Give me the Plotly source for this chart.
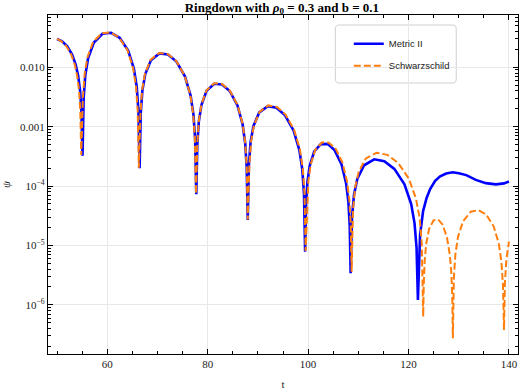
import plotly.graph_objects as go

# values (t, psi)
t_metric = [50.0, 51.0, 52.0, 53.0, 53.7, 54.2, 54.6, 54.85, 55.07,
            55.30, 55.64, 56.21, 57.34, 59.05, 60.76, 62.46, 64.17, 65.30, 65.87, 66.21, 66.44,
            66.67, 67.00, 67.57, 68.70, 70.39, 72.09, 73.78, 75.47, 76.60, 77.17, 77.50, 77.73,
            77.94, 78.24, 78.76, 79.78, 81.32, 82.86, 84.39, 85.93, 86.96, 87.47, 87.77, 87.98,
            88.21, 88.55, 89.12, 90.27, 91.98, 93.70, 95.41, 97.12, 98.27, 98.84, 99.18, 99.41,
            99.59, 99.86, 100.32, 101.22, 102.58, 103.94, 105.30, 106.66, 107.56, 108.02, 108.29, 108.47,
            108.74, 109.14, 109.81, 111.15, 113.16, 115.17, 117.18, 119.19, 120.53, 121.20, 121.60, 121.87,
            122.05, 122.3, 122.9, 123.6, 124.3, 125.3, 126.3, 127.5, 128.8, 130.0, 131.5, 133.4,
            135.4, 137.4, 139.0, 140.0]
psi_metric = [0.0299, 0.0274, 0.0228, 0.0164, 0.0112, 7.24e-3, 3.98e-3, 1.86e-3, 3.24e-4,
              3.06e-3, 7.51e-3, 0.0145, 0.0261, 0.0366, 0.0380, 0.0314, 0.0191, 9.52e-3, 4.70e-3, 1.85e-3, 2.0e-4,
              1.69e-3, 4.08e-3, 7.67e-3, 0.0131, 0.0171, 0.0164, 0.0125, 7.05e-3, 3.33e-3, 1.60e-3, 6.24e-4, 7.28e-5,
              5.09e-4, 1.23e-3, 2.32e-3, 4.02e-3, 5.28e-3, 5.15e-3, 3.99e-3, 2.28e-3, 1.09e-3, 5.26e-4, 2.06e-4, 2.69e-5,
              2.31e-4, 5.55e-4, 1.03e-3, 1.74e-3, 2.21e-3, 2.08e-3, 1.55e-3, 8.57e-4, 4.00e-4, 1.91e-4, 7.40e-5, 7.87e-6,
              4.76e-5, 1.16e-4, 2.19e-4, 3.84e-4, 5.13e-4, 5.08e-4, 4.00e-4, 2.32e-4, 1.12e-4, 5.46e-5, 2.14e-5, 3.40e-6,
              2.99e-5, 7.16e-5, 1.33e-4, 2.24e-4, 2.82e-4, 2.63e-4, 1.95e-4, 1.07e-4, 4.97e-5, 2.36e-5, 9.14e-6, 1.21e-6,
              5.01e-6, 1.51e-5, 3.80e-5, 6.31e-5, 8.91e-5, 1.23e-4, 1.46e-4, 1.63e-4, 1.71e-4, 1.65e-4, 1.53e-4, 1.27e-4,
              1.12e-4, 1.07e-4, 1.11e-4, 1.19e-4]

t_schw = [50.0, 50.8, 51.8, 52.8, 53.5, 54.0, 54.4, 54.62, 54.82,
          55.15, 55.49, 56.06, 57.19, 58.90, 60.61, 62.31, 64.02, 65.15, 65.72, 66.06, 66.29,
          66.62, 66.95, 67.52, 68.65, 70.34, 72.04, 73.73, 75.42, 76.55, 77.12, 77.45, 77.68,
          77.94, 78.24, 78.76, 79.78, 81.32, 82.86, 84.39, 85.93, 86.96, 87.47, 87.77, 87.98,
          88.31, 88.65, 89.22, 90.37, 92.08, 93.80, 95.51, 97.22, 98.37, 98.94, 99.28, 99.51,
          99.79, 100.06, 100.52, 101.42, 102.78, 104.14, 105.50, 106.86, 107.76, 108.22, 108.49, 108.67,
          108.94, 109.36, 110.08, 111.50, 113.64, 115.79, 117.93, 120.07, 121.49, 122.21, 122.63, 122.92,
          123.04, 123.22, 123.51, 124.10, 124.99, 125.88, 126.76, 127.65, 128.24, 128.53, 128.71, 128.83,
          129.03, 129.34, 129.85, 130.87, 132.39, 133.92, 135.45, 136.97, 137.99, 138.50, 138.81, 139.01,
          139.2, 139.5, 140.0]
psi_schw = [0.0300, 0.0276, 0.0230, 0.0166, 0.0113, 7.24e-3, 3.98e-3, 1.86e-3, 3.35e-4,
            3.12e-3, 7.66e-3, 0.0148, 0.0266, 0.0373, 0.0388, 0.0320, 0.0195, 9.71e-3, 4.79e-3, 1.89e-3, 2.04e-4,
            1.72e-3, 4.16e-3, 7.82e-3, 0.0134, 0.0174, 0.0167, 0.0128, 7.19e-3, 3.40e-3, 1.63e-3, 6.36e-4, 7.4e-5,
            5.19e-4, 1.25e-3, 2.37e-3, 4.10e-3, 5.39e-3, 5.25e-3, 4.07e-3, 2.33e-3, 1.11e-3, 5.37e-4, 2.10e-4, 2.75e-5,
            2.38e-4, 5.72e-4, 1.06e-3, 1.79e-3, 2.28e-3, 2.14e-3, 1.60e-3, 8.83e-4, 4.12e-4, 1.97e-4, 7.62e-5, 8.1e-6,
            5.05e-5, 1.23e-4, 2.32e-4, 4.07e-4, 5.44e-4, 5.38e-4, 4.24e-4, 2.46e-4, 1.19e-4, 5.79e-5, 2.27e-5, 3.6e-6,
            3.95e-5, 9.46e-5, 1.75e-4, 2.92e-4, 3.64e-4, 3.35e-4, 2.45e-4, 1.33e-4, 6.12e-5, 2.90e-5, 1.12e-5, 6.32e-7,
            2.24e-6, 5.48e-6, 1.06e-5, 1.90e-5, 2.65e-5, 2.75e-5, 2.26e-5, 1.37e-5, 6.82e-6, 3.37e-6, 1.33e-6, 2.74e-7,
            2.92e-6, 7.21e-6, 1.40e-5, 2.57e-5, 3.70e-5, 3.94e-5, 3.33e-5, 2.08e-5, 1.06e-5, 5.25e-6, 2.09e-6, 3.78e-7,
            2.4e-6, 6.0e-6, 1.16e-5]

y_tickvals = [1e-2, 1e-3, 1e-4, 1e-5, 1e-6]
y_ticktext = ["0.010", "0.001", "10<sup>−4</sup>", "10<sup>−5</sup>", "10<sup>−6</sup>"]
y_minor = [k * 10.0 ** e for e in range(-7, -1) for k in range(2, 10)]

serif = "Liberation Serif"

fig = go.Figure()
fig.add_trace(go.Scatter(x=t_metric, y=psi_metric, mode="lines", name="Metric II",
                         legendgroup="a", line=dict(color="#0000ff", width=2.6)))
fig.add_trace(go.Scatter(x=t_schw, y=psi_schw, mode="lines", name="Schwarzschild",
                         legendgroup="b", line=dict(color="#ff7f0e", width=2, dash="7px,3px")))

axis_common = dict(showline=True, linecolor="black", linewidth=1.3, mirror="allticks",
                   ticks="inside", ticklen=5, tickcolor="black", tickwidth=1,
                   showgrid=True, gridcolor="#e8e8e8", gridwidth=1, zeroline=False,
                   tickfont=dict(family=serif, size=11, color="#222"))

fig.update_xaxes(range=[48.2, 141.8], tick0=0, dtick=20,
                 minor=dict(ticks="inside", ticklen=3, dtick=5, tickcolor="black", showgrid=False),
                 title=dict(text="t", font=dict(family=serif, size=11, color="#222"), standoff=10),
                 **axis_common)
fig.update_yaxes(type="log", range=[-6.827, -1.12], tickmode="array",
                 tickvals=y_tickvals, ticktext=y_ticktext,
                 minor=dict(ticks="inside", ticklen=3, tickmode="array", tickvals=y_minor,
                            tickcolor="black", showgrid=False),
                 title=dict(text="<i>ψ</i>", font=dict(family=serif, size=11, color="#222"), standoff=8),
                 **axis_common)

# rounded legend frame
x0, x1, y0, y1 = 0.6114, 0.8686, 0.7994, 0.9705
rx, ry = 0.0085, 0.0118
path = (f"M {x0+rx},{y1} L {x1-rx},{y1} Q {x1},{y1} {x1},{y1-ry} L {x1},{y0+ry} "
        f"Q {x1},{y0} {x1-rx},{y0} L {x0+rx},{y0} Q {x0},{y0} {x0},{y0+ry} "
        f"L {x0},{y1-ry} Q {x0},{y1} {x0+rx},{y1} Z")
fig.add_shape(type="path", path=path, xref="paper", yref="paper",
              line=dict(color="#d0d0d0", width=1), fillcolor="rgba(255,255,255,0.9)", layer="below")

fig.update_layout(
    width=523, height=392,
    margin=dict(l=45, r=4, t=15, b=38),
    paper_bgcolor="white", plot_bgcolor="white",
    title=dict(text="<b>Ringdown with <i>ρ</i><sub>0</sub> = 0.3 and b = 0.1</b>",
               font=dict(family=serif, size=13, color="black"),
               x=0.539, xanchor="center", y=0.982, yanchor="middle"),
    legend=dict(x=0.64, y=0.958, xanchor="left", yanchor="top",
                bgcolor="rgba(0,0,0,0)", borderwidth=0, tracegroupgap=3,
                font=dict(family="Liberation Sans", size=9.5, color="#222")),
    showlegend=True,
)

fig.write_html("out.html", config={"displayModeBar": False},
               post_script="document.body.style.margin='0';")
